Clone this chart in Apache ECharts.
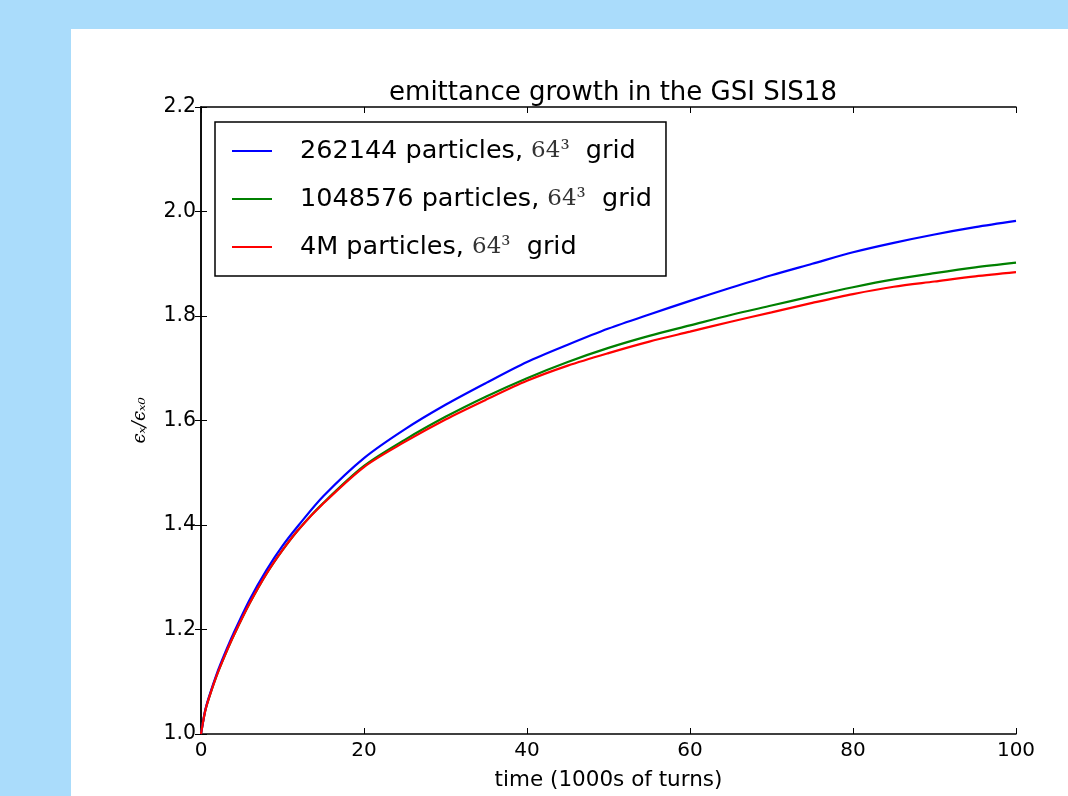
<!DOCTYPE html>
<html>
<head>
<meta charset="utf-8">
<script src="https://cdn.jsdelivr.net/npm/echarts@6/dist/echarts.min.js"></script>
<style>
html,body{margin:0;padding:0;background:#aadcfb;}
#c{width:1068px;height:796px;}
</style>
</head>
<body>
<div id="c"></div>
<script>
const turns = [0, 0.5, 1, 2, 3, 4, 6, 8, 10, 12, 15, 20, 25, 30, 35, 40, 45, 50, 55, 60, 65, 70, 75, 80, 85, 90, 95, 100];
const blue262k = [1.000, 1.044, 1.072, 1.118, 1.157, 1.193, 1.258, 1.313, 1.360, 1.400, 1.455, 1.528, 1.583, 1.630, 1.672, 1.712, 1.745, 1.776, 1.803, 1.829, 1.854, 1.878, 1.900, 1.922, 1.940, 1.956, 1.970, 1.982];
const green1M = [1.000, 1.043, 1.070, 1.115, 1.153, 1.188, 1.251, 1.306, 1.352, 1.392, 1.442, 1.513, 1.563, 1.607, 1.646, 1.681, 1.712, 1.739, 1.762, 1.782, 1.802, 1.820, 1.838, 1.855, 1.870, 1.882, 1.893, 1.902];
const red4M = [1.000, 1.043, 1.070, 1.115, 1.153, 1.188, 1.251, 1.306, 1.352, 1.392, 1.441, 1.511, 1.559, 1.602, 1.640, 1.676, 1.705, 1.729, 1.751, 1.770, 1.789, 1.807, 1.825, 1.842, 1.856, 1.866, 1.876, 1.884];
const xTicks = [0, 20, 40, 60, 80, 100];
const yTicks = [1.0, 1.2, 1.4, 1.6, 1.8, 2.0, 2.2];
const seriesNames = ['262144 particles', '1048576 particles', '4M particles'];

const chart = echarts.init(document.getElementById('c'));
const pair = (xs, ys) => xs.map((x, i) => [x, ys[i]]);
const axisCommon = {
  axisLine: {show: true, lineStyle: {color: '#000', width: 1.5}},
  axisTick: {show: true, inside: true, length: 6, lineStyle: {color: '#000', width: 1}},
  splitLine: {show: false}
};
chart.setOption({
  backgroundColor: '#aadcfb',
  animation: false,
  graphic: [{type: 'rect', shape: {x: 71, y: 29, width: 997, height: 767}, style: {fill: '#fff'}, z: -10}],
  title: {
    text: 'emittance growth in the GSI SIS18',
    left: 608, top: 75, textAlign: 'center',
    textStyle: {fontFamily: 'DejaVu Sans', fontSize: 26, fontWeight: 'normal', color: '#000'}
  },
  grid: {left: 201, top: 107, right: 52, bottom: 57, containLabel: false},
  legend: {
    orient: 'vertical', left: 215, top: 122,
    data: seriesNames,
    icon: 'rect', itemWidth: 40, itemHeight: 2, itemGap: 22,
    padding: [16, 14, 16, 17],
    borderColor: '#000', borderWidth: 1.5, backgroundColor: '#fff',
    formatter: n => '{a|' + n + ', }{m|64³}{a|  grid}',
    textStyle: {
      padding: [0, 0, 0, 23],
      rich: {
        a: {fontFamily: 'DejaVu Sans', fontSize: 25.5, color: '#000'},
        m: {fontFamily: 'DejaVu Serif', fontSize: 23, color: '#333'}
      }
    }
  },
  xAxis: [
    Object.assign({type: 'value', min: 0, max: 100, interval: 20, position: 'bottom',
      name: 'time (1000s of turns)', nameLocation: 'middle', nameGap: 35,
      nameTextStyle: {fontFamily: 'DejaVu Sans', fontSize: 21.5, color: '#000'},
      axisLabel: {fontFamily: 'DejaVu Sans', fontSize: 20, color: '#000', margin: 7,
        formatter: v => xTicks.includes(v) ? String(v) : ''}}, axisCommon),
    Object.assign({type: 'value', min: 0, max: 100, interval: 20, position: 'top',
      axisLabel: {show: false}}, axisCommon)
  ],
  yAxis: [
    Object.assign({type: 'value', min: 1.0, max: 2.2, interval: 0.2, position: 'left',
      name: 'ϵₓ/ϵₓ₀', nameLocation: 'middle', nameGap: 52, nameRotate: 90,
      nameTextStyle: {fontFamily: 'DejaVu Serif', fontStyle: 'italic', fontSize: 18, color: '#000'},
      axisLabel: {fontFamily: 'DejaVu Sans', fontSize: 20.5, color: '#000', margin: 5,
        formatter: v => yTicks.some(t => Math.abs(t - v) < 1e-6) ? v.toFixed(1) : ''}}, axisCommon),
    Object.assign({type: 'value', min: 1.0, max: 2.2, interval: 0.2, position: 'right',
      axisLabel: {show: false}}, axisCommon)
  ],
  series: [
    {name: seriesNames[0], type: 'line', data: pair(turns, blue262k), showSymbol: false, symbol: 'none', smooth: 0.3,
      lineStyle: {color: '#0000ff', width: 2.2}, itemStyle: {color: '#0000ff'}, z: 3},
    {name: seriesNames[1], type: 'line', data: pair(turns, green1M), showSymbol: false, symbol: 'none', smooth: 0.3,
      lineStyle: {color: '#008000', width: 2.2}, itemStyle: {color: '#008000'}, z: 2},
    {name: seriesNames[2], type: 'line', data: pair(turns, red4M), showSymbol: false, symbol: 'none', smooth: 0.3,
      lineStyle: {color: '#ff0000', width: 2.2}, itemStyle: {color: '#ff0000'}, z: 4}
  ]
});
</script>
</body>
</html>
